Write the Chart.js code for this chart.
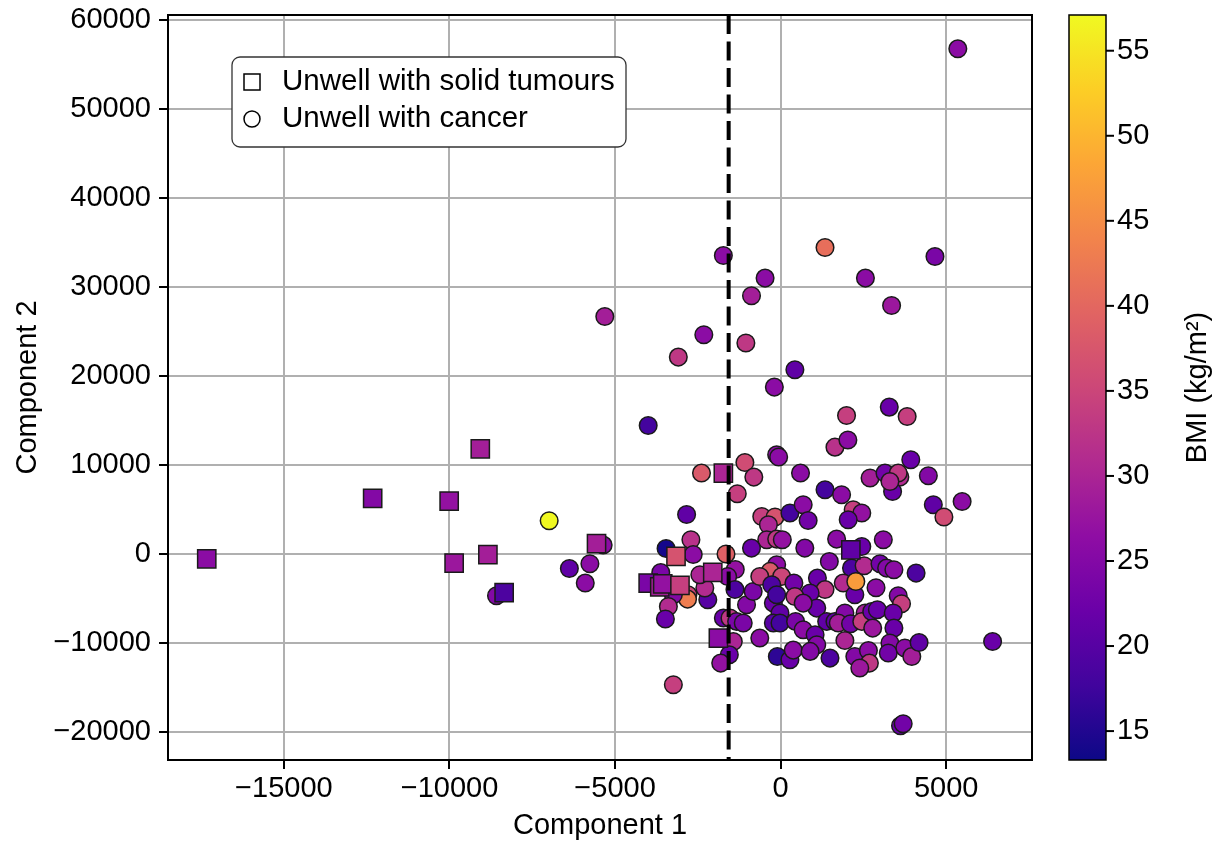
<!DOCTYPE html>
<html lang="en">
<head>
<meta charset="UTF-8">
<title>Component 1 vs Component 2</title>
<script src="https://cdn.jsdelivr.net/npm/chart.js@4.4.0/dist/chart.umd.min.js"></script>
<style>
  html, body { margin: 0; padding: 0; background: #fff; }
  #wrap { width: 1224px; height: 844px; }
</style>
</head>
<body>
<div id="wrap"><canvas id="myChart" width="1224" height="844"></canvas></div>
<script>
// unwell with solid tumours (squares)
const tumourX   = [-17330, -12320, -10010, -9070, -9860, -8840, -8350, -5560, -3160, -4000, -3650, -3560, -3040, -2050, -1730, -1880, 2120];
const tumourY   = [-540, 6240, 5940, 11820, -1020, -60, -4330, 1150, -280, -3270, -3700, -3350, -3540, -2080, 9090, -9450, 470];
const tumourBmi = [26, 25, 27, 29, 28, 29, 19, 29, 37, 24, 29, 27, 34, 30, 30, 26, 21];

// unwell with cancer (circles)
const cancerX = [
  -8580, -6990, -6380, -5900, -5360, -5760, -2840, -2710, -3460, -2640,
  -3620, -2800, -2810, -3240, -3390, -3480, -2200, -2290, -2440, -1370,
  -1600, -1380, -1030, -1730, -1530, -1330, -1130, -1430, -1550,
  -1810, -3240, -630, -830, -100, 280, -2390, -1080, -810, -1310,
  -120, -60, -570, -170, -370, 280, -420, -120, 50, -880,
  -120, -320, -630, 30, -270, 400, -220, -120, -20, -220,
  -20, 450, 380, 1640, 2030, 3930, 600, 2700, 3150, 3600,
  3550, 3380, 3300, 4460, 1340, 1840, 680, 830, 2190, 2450,
  2040, 4610, 4930, 5480, 1690, 3100, 730, 2450, 1470, 2140,
  2520, 3000, 3200, 3420, 4090, 1890, 1110, 2880, 1340,
  2240, 890, 430, 3550, 3650, 1090, 680, 1390, 1640, 1940,
  1740, 2110, 2550, 2450, 2750, 2920, 2780, 3400, 3420, 680,
  1040, 1090, 1940, 890, 1490, 2240, 2650, 2680, 2390, 3300,
  3250, 3750, 3960, 4180, 6400, 3620, 3700, -1730, -470, -880,
  1340, 4660, 2560, 3350, -5310, -2320, -3090, -1050, 430, -190,
  -4000, 1990, 3280, 3820, 5350, -1650, 2270
];
const cancerY = [
  -4700, 3730, -1630, -3270, 1000, -1100, 4440, 1600, 620, -60,
  -2080, -4580, -5070, -4580, -5900, -7310, -5150, -3830, -2340, -1750,
  -2530, -4000, -5710, -7200, -7200, -7580, -7760, -9830, -11330,
  -12260, -14700, -9450, -4210, -11520, -11890, 9090, 10280, 8640, 6760,
  11150, 10900, 4210, 4150, 3280, 4600, 1600, 1670, 1600, 660,
  -1210, -1960, -2530, -2530, -3460, -3270, -5520, -4580, -6640, -7760,
  -7760, -7580, -10800, 12000, 12800, 10580, 9090, 8530, 9090, 8640,
  9090, 7020, 8150, 8790, 7210, 6650, 5530, 3760, 4970, 4600,
  3840, 5530, 4150, 5900, 1670, 1600, 660, 840, -840, -1590,
  -1330, -1100, -1590, -1780, -2150, -3270, -2710, -3800, -4000,
  -4580, -4390, -4780, -4700, -5600, -6080, -5520, -7580, -7580, -6640,
  -7760, -7840, -6640, -7580, -6460, -6270, -8330, -6640, -8330, -8520,
  -9080, -10200, -9720, -10950, -11700, -11520, -10840, -12260, -12820, -10010,
  -11130, -10570, -11520, -9940, -9830, -19300, -19080, 33540, 31000, 29010,
  34440, 33430, 31000, 27920, 26690, 24630, 22120, 23700, 20700, 18750,
  14440, 15560, 16500, 15450, 56760, -10, -3090
];
const cancerBmi = [
  25, 57, 21, 26, 26, 26, 21, 32, 14, 26,
  24, 35, 43, 25, 31, 22, 20, 31, 30, 27,
  26, 19, 25, 22, 33, 24, 24, 30, 22,
  27, 34, 26, 24, 16, 22, 38, 36, 33, 34,
  26, 26, 34, 37, 30, 18, 30, 33, 27, 22,
  26, 38, 34, 35, 19, 23, 22, 18, 21, 20,
  18, 24, 26, 32, 26, 22, 26, 29, 23, 31,
  33, 22, 30, 25, 18, 26, 26, 23, 34, 27,
  22, 21, 36, 26, 26, 26, 25, 22, 25, 19,
  31, 23, 25, 26, 19, 31, 22, 26, 33,
  22, 22, 33, 25, 34, 22, 26, 21, 21, 25,
  29, 23, 29, 34, 22, 22, 28, 22, 22, 26,
  22, 25, 30, 25, 19, 25, 26, 33, 28, 25,
  23, 26, 29, 21, 22, 22, 23, 26, 26, 29,
  41, 24, 26, 28, 29, 26, 33, 33, 21, 26,
  18, 34, 22, 34, 26, 39, 47
];

const xTicks = [-15000, -10000, -5000, 0, 5000];
const yTicks = [-20000, -10000, 0, 10000, 20000, 30000, 40000, 50000, 60000];
const bmiTicks = [15, 20, 25, 30, 35, 40, 45, 50, 55];
const xRange = [-18500, 7590];
const yRange = [-23150, 60560];
const bmiRange = [13.3, 57.1];
const splitX = -1570;

const FONT = '"Liberation Sans", Arial, Helvetica, sans-serif';
const plasmaStops = ['#0d0887', '#41049d', '#6a00a8', '#8f0da4', '#b12a90', '#cc4778',
                     '#e16462', '#f2844b', '#fca636', '#fcce25', '#f0f921'];

function hexRgb(h) {
  return [parseInt(h.slice(1, 3), 16), parseInt(h.slice(3, 5), 16), parseInt(h.slice(5, 7), 16)];
}
function plasma(v) {
  let t = (v - bmiRange[0]) / (bmiRange[1] - bmiRange[0]);
  t = Math.min(1, Math.max(0, t)) * (plasmaStops.length - 1);
  const i = Math.min(plasmaStops.length - 2, Math.floor(t));
  const f = t - i;
  const a = hexRgb(plasmaStops[i]), b = hexRgb(plasmaStops[i + 1]);
  const c = a.map((ch, k) => Math.round(ch + (b[k] - ch) * f));
  return 'rgb(' + c.join(',') + ')';
}
function minus(v) { return String(v).replace('-', '\u2212'); }
function fixTicks(list) { return s => { s.ticks = list.map(v => ({value: v})); }; }

const extras = {
  id: 'extras',
  afterDatasetsDraw(chart) {
    const {ctx, chartArea: a, scales: {x}} = chart;
    const sx = x.getPixelForValue(splitX);
    ctx.save();
    ctx.strokeStyle = '#000';
    ctx.lineWidth = 4;
    ctx.setLineDash([19, 7.5]);
    ctx.beginPath();
    ctx.moveTo(sx, a.top);
    ctx.lineTo(sx, a.bottom);
    ctx.stroke();
    ctx.setLineDash([]);
    ctx.lineWidth = 2;
    ctx.strokeRect(a.left, a.top, a.right - a.left, a.bottom - a.top);
    ctx.restore();
  },
  afterDraw(chart) {
    const {ctx, chartArea: a, scales: {cb}} = chart;
    ctx.save();
    // legend
    const lx = a.left + 64, ly = a.top + 42;
    ctx.beginPath();
    ctx.roundRect(lx, ly, 394, 90, 8);
    ctx.fillStyle = '#fff';
    ctx.fill();
    ctx.strokeStyle = '#333';
    ctx.lineWidth = 1.3;
    ctx.stroke();
    ctx.lineWidth = 1.5;
    ctx.strokeStyle = '#000';
    ctx.strokeRect(lx + 12, ly + 17, 16, 16);
    ctx.beginPath();
    ctx.arc(lx + 20, ly + 62, 8, 0, Math.PI * 2);
    ctx.stroke();
    ctx.fillStyle = '#000';
    ctx.font = '29.5px ' + FONT;
    ctx.textBaseline = 'middle';
    ctx.textAlign = 'left';
    ctx.fillText('Unwell with solid tumours', lx + 50, ly + 25);
    ctx.fillText('Unwell with cancer', lx + 50, ly + 62);

    // colour bar
    const bx = a.right + 37, bw = 37;
    const yLo = cb.getPixelForValue(bmiRange[0]), yHi = cb.getPixelForValue(bmiRange[1]);
    const g = ctx.createLinearGradient(0, yLo, 0, yHi);
    plasmaStops.forEach((c, i) => g.addColorStop(i / (plasmaStops.length - 1), c));
    ctx.fillStyle = g;
    ctx.fillRect(bx, yHi, bw, yLo - yHi);
    ctx.strokeStyle = '#000';
    ctx.lineWidth = 1.5;
    ctx.strokeRect(bx, yHi, bw, yLo - yHi);
    ctx.lineWidth = 2;
    bmiTicks.forEach(v => {
      const ty = cb.getPixelForValue(v);
      ctx.beginPath();
      ctx.moveTo(bx + bw, ty);
      ctx.lineTo(bx + bw + 8, ty);
      ctx.stroke();
    });
    ctx.translate(a.right + 166, (a.top + a.bottom) / 2);
    ctx.rotate(-Math.PI / 2);
    ctx.textAlign = 'center';
    ctx.fillStyle = '#000';
    ctx.font = '29px ' + FONT;
    ctx.fillText('BMI (kg/m\u00b2)', 0, 0);
    ctx.restore();
  }
};

const ctx = document.getElementById('myChart');
const tickFont = {family: FONT, size: 29};

new Chart(ctx, {
  type: 'scatter',
  data: {
    datasets: [
      {
        label: 'Unwell with solid tumours',
        data: tumourX.map((x, i) => ({x: x, y: tumourY[i]})),
        pointStyle: 'rect',
        pointRadius: 12.9,
        pointHoverRadius: 12.9,
        pointBackgroundColor: tumourBmi.map(plasma),
        pointBorderColor: '#1a1a1a',
        pointBorderWidth: 1.5
      },
      {
        label: 'Unwell with cancer',
        data: cancerX.map((x, i) => ({x: x, y: cancerY[i]})),
        pointStyle: 'circle',
        pointRadius: 8.8,
        pointHoverRadius: 8.8,
        pointBackgroundColor: cancerBmi.map(plasma),
        pointBorderColor: '#1a1a1a',
        pointBorderWidth: 1.5
      }
    ]
  },
  options: {
    responsive: false,
    animation: false,
    devicePixelRatio: 1,
    events: [],
    layout: {padding: {top: 15, left: 0, right: 0, bottom: 0}},
    plugins: {legend: {display: false}, tooltip: {enabled: false}},
    scales: {
      x: {
        type: 'linear', position: 'bottom', min: xRange[0], max: xRange[1],
        afterBuildTicks: fixTicks(xTicks),
        afterFit: s => { s.height = 84; s.paddingLeft = 0; s.paddingRight = 0; },
        grid: {color: '#b0b0b0', lineWidth: 2, tickColor: '#000', tickLength: 9, tickWidth: 2},
        border: {display: false},
        ticks: {font: tickFont, color: '#000', padding: 3, maxRotation: 0, autoSkip: false, callback: minus},
        title: {display: true, text: 'Component 1', font: tickFont, color: '#000', padding: {top: 0, bottom: 1}}
      },
      y: {
        type: 'linear', position: 'left', min: yRange[0], max: yRange[1],
        afterBuildTicks: fixTicks(yTicks),
        afterFit: s => { s.width = 168; s.paddingTop = 0; s.paddingBottom = 0; },
        grid: {color: '#b0b0b0', lineWidth: 2, tickColor: '#000', tickLength: 9, tickWidth: 2},
        border: {display: false},
        ticks: {font: tickFont, color: '#000', padding: 8, autoSkip: false, callback: minus},
        title: {display: true, text: 'Component 2', font: tickFont, color: '#000', padding: {top: 11, bottom: 0}}
      },
      cb: {
        type: 'linear', position: 'right', min: bmiRange[0], max: bmiRange[1],
        afterBuildTicks: fixTicks(bmiTicks),
        afterFit: s => { s.width = 192; s.paddingTop = 0; s.paddingBottom = 0; },
        grid: {display: false, drawTicks: false, drawOnChartArea: false},
        border: {display: false},
        ticks: {font: tickFont, color: '#000', padding: 85, autoSkip: false}
      }
    }
  },
  plugins: [extras]
});
</script>
</body>
</html>
